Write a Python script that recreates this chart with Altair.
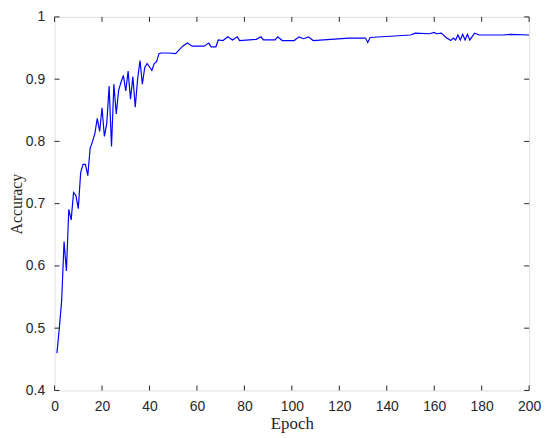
import altair as alt
import pandas as pd

epochs = [1, 2, 3, 4, 5, 6, 7, 8, 9, 10, 11, 12, 13, 14, 15, 16, 17, 18, 19, 20,
          21, 22, 23, 24, 25, 26, 27, 28, 29, 30, 31, 32, 33, 34, 35, 36, 37, 38, 39, 40,
          41, 42, 43, 44, 45, 48, 51, 52, 54, 56, 58, 63, 65, 66, 68, 69, 71, 73, 75, 77,
          78, 85, 87, 88, 93, 94, 96, 101, 103, 105, 107, 109, 124, 131, 132, 133, 150, 152, 158, 160,
          161, 163, 165, 167, 168, 169, 170, 171, 172, 173, 174, 175, 177, 179, 189, 192, 200]
accuracy = [0.460, 0.500, 0.545, 0.639, 0.592, 0.691, 0.674, 0.718, 0.713, 0.692,
            0.750, 0.763, 0.763, 0.745, 0.789, 0.800, 0.813, 0.837, 0.816, 0.854,
            0.808, 0.829, 0.889, 0.792, 0.892, 0.844, 0.882, 0.895, 0.906, 0.881,
            0.913, 0.868, 0.904, 0.855, 0.900, 0.930, 0.892, 0.919, 0.925, 0.920,
            0.914, 0.925, 0.928, 0.941, 0.942, 0.942, 0.941, 0.945, 0.953, 0.958,
            0.953, 0.953, 0.958, 0.952, 0.952, 0.963, 0.962, 0.968, 0.963, 0.968,
            0.962, 0.964, 0.968, 0.963, 0.963, 0.968, 0.962, 0.962, 0.968, 0.965,
            0.968, 0.962, 0.966, 0.966, 0.959, 0.967, 0.971, 0.974, 0.973, 0.975,
            0.973, 0.974, 0.967, 0.962, 0.966, 0.963, 0.971, 0.963, 0.972, 0.963,
            0.972, 0.963, 0.974, 0.971, 0.971, 0.972, 0.971]

x_ticks = [0, 20, 40, 60, 80, 100, 120, 140, 160, 180, 200]
y_ticks = [0.4, 0.5, 0.6, 0.7, 0.8, 0.9, 1.0]

W, H = 479, 377
TL = 5
AX = "#262626"

df = pd.DataFrame({"epoch": epochs, "acc": accuracy})
xt = pd.DataFrame({"t": x_ticks})
yt = pd.DataFrame({"t": y_ticks})

xscale = alt.Scale(domain=[0, 200], nice=False, zero=False)
yscale = alt.Scale(domain=[0.4, 1.0], nice=False, zero=False)

line = alt.Chart(df).mark_line(color="#0000FF", strokeWidth=1.2, clip=True).encode(
    x=alt.X("epoch:Q", scale=xscale,
            axis=alt.Axis(title="Epoch", values=x_ticks, format="d", ticks=False, domain=False,
                          grid=False, labelFont="Liberation Sans", labelFontSize=14,
                          labelColor=AX, labelPadding=9, titleFont="Liberation Serif",
                          titleFontSize=17, titleFontWeight="normal", titleColor=AX,
                          titlePadding=2, labelFlush=False)),
    y=alt.Y("acc:Q", scale=yscale,
            axis=alt.Axis(title="Accuracy", values=y_ticks, format=".1~f", ticks=False, domain=False,
                          grid=False, labelFont="Liberation Sans", labelFontSize=14,
                          labelColor=AX, labelPadding=10, titleFont="Liberation Serif",
                          titleFontSize=16, titleFontWeight="normal", titleColor=AX,
                          titlePadding=1, labelFlush=False)),
)

bot = alt.Chart(xt).mark_rule(color=AX, strokeWidth=1).encode(
    x=alt.X("t:Q", scale=xscale), y=alt.value(H), y2=alt.value(H - TL))
top = alt.Chart(xt).mark_rule(color=AX, strokeWidth=1).encode(
    x=alt.X("t:Q", scale=xscale), y=alt.value(0), y2=alt.value(TL))
left = alt.Chart(yt).mark_rule(color=AX, strokeWidth=1).encode(
    y=alt.Y("t:Q", scale=yscale), x=alt.value(0), x2=alt.value(TL))
right = alt.Chart(yt).mark_rule(color=AX, strokeWidth=1).encode(
    y=alt.Y("t:Q", scale=yscale), x=alt.value(W), x2=alt.value(W - TL))

chart = alt.layer(line, bot, top, left, right).properties(
    width=W, height=H,
    autosize=alt.AutoSizeParams(type="none"),
    padding={"left": 47, "top": 7, "right": 13, "bottom": 44},
).configure_view(stroke=AX, strokeWidth=1).configure(background="white")

chart.save("out.html", embed_options={"renderer": "svg", "actions": False})
